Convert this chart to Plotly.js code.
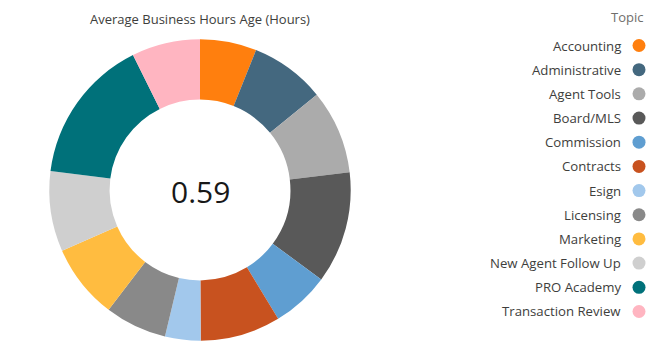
<!DOCTYPE html>
<html>
<head>
<meta charset="utf-8">
<script src="https://cdn.plot.ly/plotly-3.0.1.min.js"></script>
<style>html,body{margin:0;padding:0;background:#fff;}#chart{width:658px;height:362px;}</style>
</head>
<body>
<div id="chart"></div>
<script>
const categories = ["Accounting","Administrative","Agent Tools","Board/MLS","Commission","Contracts","Esign","Licensing","Marketing","New Agent Follow Up","PRO Academy","Transaction Review"];
const hours = [0.43,0.57,0.64,0.85,0.44,0.61,0.27,0.47,0.57,0.61,1.11,0.52];
const colors = ["#FF7F0E","#44687F","#ABABAB","#595959","#5F9ED1","#C8521F","#A2C8EC","#898989","#FFBC40","#CFCFCF","#00717A","#FFB5C1"];
const chartTitle = "Average Business Hours Age (Hours)";
const legendTitle = "Topic";

const W = 658, H = 362;
const avg = hours.reduce((a,b)=>a+b,0)/hours.length;
const idx = categories.map((_,i)=>i);
const font = "'Open Sans', sans-serif";

const pie = {
  type: 'pie', labels: categories, values: hours, sort: false, direction: 'clockwise', rotation: 0,
  hole: 0.60, marker: {colors: colors, line: {width: 0}},
  textinfo: 'none', hoverinfo: 'none', showlegend: false,
  domain: {x: [49.3/W, 350.7/W], y: [1-340.7/H, 1-39.3/H]}
};
const legendMarkers = {
  type: 'scatter', mode: 'markers', x: idx.map(()=>0), y: idx,
  marker: {color: colors, size: 13, line: {width: 0}}, hoverinfo: 'none', showlegend: false,
  xaxis: 'x', yaxis: 'y', cliponaxis: false
};
const step = 24.18, y0px = 45.5, xpx = 639, textGap = 16.5;
const labelAnns = categories.map((c,i)=>({
  text: c, xref: 'x', yref: 'y', x: -textGap, y: i, xanchor: 'right', yanchor: 'middle',
  showarrow: false, font: {family: font, size: 13.2, color: '#3e3e3c'}
}));
const layout = {
  width: W, height: H, margin: {l:0, r:0, t:0, b:0}, paper_bgcolor: '#fff', plot_bgcolor: 'rgba(0,0,0,0)',
  showlegend: false,
  xaxis: {domain: [0,1], range: [-xpx, W-xpx], visible: false, fixedrange: true},
  yaxis: {domain: [0,1], range: [(H-y0px)/step, -y0px/step], visible: false, fixedrange: true},
  annotations: [
    {text: chartTitle, xref: 'paper', yref: 'paper', x: 200/W, y: 1-19/H, xanchor: 'center', yanchor: 'middle', showarrow: false, font: {family: font, size: 13, color: '#3e3e3c'}},
    {text: legendTitle, xref: 'paper', yref: 'paper', x: 645/W, y: 1-17/H, xanchor: 'right', yanchor: 'middle', showarrow: false, font: {family: font, size: 13, color: '#706e6b'}},
    {text: avg.toFixed(2), xref: 'paper', yref: 'paper', x: 200/W, y: 1-191/H, xanchor: 'center', yanchor: 'middle', showarrow: false, font: {family: font, size: 30, color: '#181818'}}
  ].concat(labelAnns)
};
Plotly.newPlot('chart', [pie, legendMarkers], layout, {displayModeBar: false, staticPlot: true});
</script>
</body>
</html>
